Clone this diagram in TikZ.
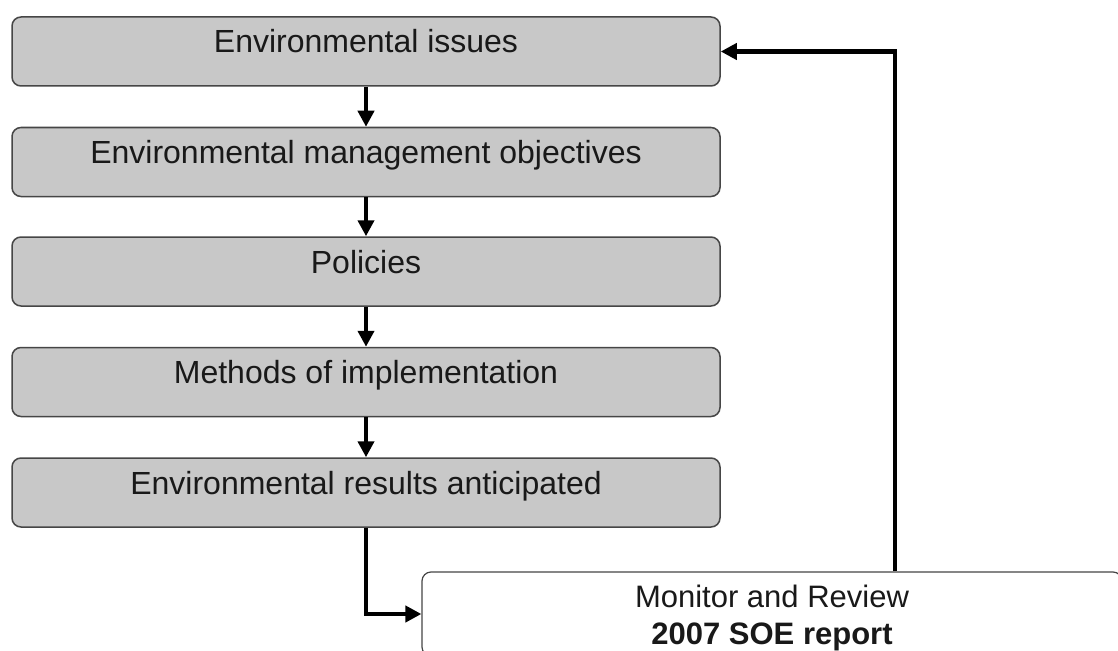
\documentclass[tikz,border=0pt]{standalone}
\usepackage{fontspec}
\setmainfont{Liberation Sans}
\usetikzlibrary{arrows.meta}
\definecolor{boxgray}{RGB}{200,200,200}
\definecolor{edgegray}{RGB}{70,70,70}
\definecolor{inkgray}{RGB}{25,25,25}

\begin{document}
\begin{tikzpicture}[x=1pt,y=-1pt,
	stage/.style={draw=edgegray, line width=1.5pt, fill=boxgray, rounded corners=9pt,
		minimum width=708pt, minimum height=69pt, inner sep=0pt, text=inkgray,
		font=\fontsize{32}{37}\selectfont, text height=22pt, text depth=19pt},
	review/.style={draw=edgegray, line width=1.2pt, fill=white, rounded corners=9pt,
		minimum width=700pt, minimum height=84pt, inner sep=0pt, text=inkgray, align=center,
		font=\fontsize{31}{37}\selectfont, text height=60pt, text depth=0pt},
	flow/.style={line width=4.5pt, -{Triangle[length=16pt,width=16pt]}}]

	\clip (0,0) rectangle (1118,650);
	\fill[white] (0,0) rectangle (1118,650);

	\node[stage] (iss) at (366,51.5) {Environmental issues};
	\node[stage] (obj) at (366,162) {Environmental management objectives};
	\node[stage] (pol) at (366,271.5) {Policies};
	\node[stage] (meth) at (366,382) {Methods of implementation};
	\node[stage] (res) at (366,492.5) {Environmental results anticipated};

	\node[review] (mon) at (772,614) {Monitor and Review\\\textbf{2007 SOE report}};

	\draw[flow] (iss) -- (obj);
	\draw[flow] (obj) -- (pol);
	\draw[flow] (pol) -- (meth);
	\draw[flow] (meth) -- (res);
	\draw[flow] (res.south) |- (mon.west);
	\draw[flow] ([xshift=123pt]mon.north) |- (iss.east);

\end{tikzpicture}
\end{document}
